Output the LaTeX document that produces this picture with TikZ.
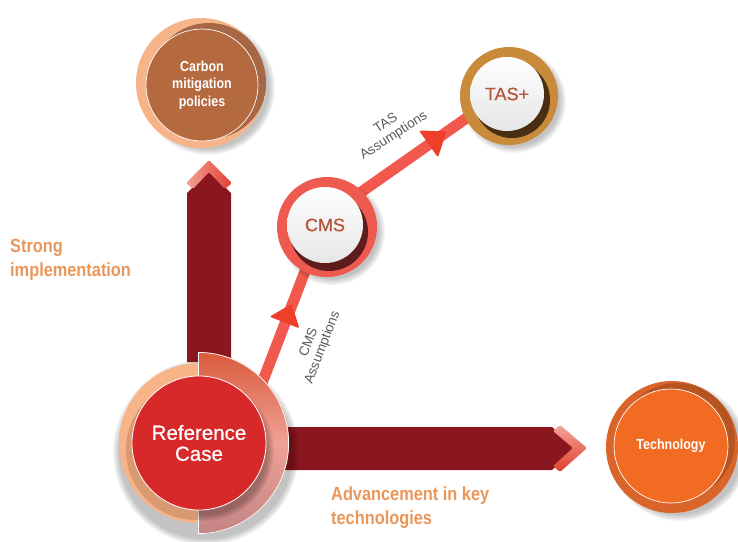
\documentclass[tikz,border=0pt]{standalone}
\usepackage{fontspec}
\setmainfont{Liberation Sans}
\newfontfamily\condf[FakeStretch=0.86]{Liberation Sans}
\newfontfamily\medf[FakeBold=0.5]{Liberation Sans}
\usetikzlibrary{calc}
\definecolor{arrowred}{HTML}{8A1620}
\definecolor{peach}{HTML}{F6B488}
\definecolor{refred}{HTML}{D7282A}
\definecolor{halftop}{HTML}{DA5B3D}
\definecolor{halfmid}{HTML}{EFA195}
\definecolor{halfbot}{HTML}{C48484}
\definecolor{carbonbrown}{HTML}{B5693F}
\definecolor{carbondark}{HTML}{8A4E30}
\definecolor{cmsring}{HTML}{EE5A50}
\definecolor{cmsdark}{HTML}{5E1C1C}
\definecolor{tasring}{HTML}{C98A3A}
\definecolor{tasdark}{HTML}{4A2E12}
\definecolor{techfill}{HTML}{F26B22}
\definecolor{techring}{HTML}{D9652A}
\definecolor{techdark}{HTML}{A04A1E}
\definecolor{linkred}{HTML}{F2594E}
\definecolor{headred}{HTML}{EE3F2A}
\definecolor{labelorange}{HTML}{E9965A}
\definecolor{innertext}{HTML}{B4553A}
\definecolor{chevlight}{HTML}{F3A398}
\definecolor{chevdark}{HTML}{E0402E}
\newcommand\softsh[2]{\foreach \k in {0,...,5}{\fill[black,opacity=0.045] (#1) circle[radius=#2+3-\k*1.2];}}
\tikzset{
  link/.style={draw=linkred, line width=11pt},
  headtri/.style={fill=headred, rounded corners=1.5pt},
  ringnode/.style={circle, inner sep=0pt},
  condlabel/.style={font=\condf\bfseries\fontsize{19}{24}\selectfont, text=labelorange, align=left, inner sep=0pt, anchor=west},
  incircletext/.style={font=\condf\bfseries\fontsize{14.5}{17.5}\selectfont, text=white, align=center},
  assumption/.style={font=\fontsize{13.5}{14.5}\selectfont, text=black!65, align=center, inner sep=0pt},
  whitecenter/.style={circle, inner sep=0pt, top color=white, bottom color=black!10, font=\medf\fontsize{18}{18}\selectfont, text=innertext},
}
\begin{document}
\begin{tikzpicture}[x=1pt,y=-1pt]
\useasboundingbox (0,0) rectangle (738,541);

% ---------- vertical arrow ----------
\fill[arrowred] (187,362) -- (187,193) -- (209,172) -- (231,193) -- (231,362) -- cycle;
\shade[left color=chevlight, right color=chevdark, rounded corners=1.5pt] (186,183) -- (209,160) -- (232,183) -- (225,189) -- (209,172) -- (193,189) -- cycle;

% ---------- horizontal arrow ----------
\fill[arrowred] (250,427) -- (552,427) -- (575,448) -- (552,470) -- (250,470) -- cycle;
\shade[top color=chevlight, bottom color=chevdark, rounded corners=1.5pt] (560,425) -- (587,448) -- (560,472) -- (553,466) -- (573,448) -- (553,431) -- cycle;

% ---------- circle rings (nodes) ----------
\node[ringnode, minimum size=182pt] (ref) at (199,443) {};
\node[ringnode, minimum size=100pt] (cms) at (327,227) {};
\node[ringnode, minimum size=98pt] (tas) at (509,96) {};
\node[ringnode, minimum size=130pt] (carbon) at (201,83) {};
\node[ringnode, minimum size=132pt] (tech) at (672,447) {};

% ---------- connectors ----------
\draw[link] ([shift={(45,-13)}]ref.center) -- ([shift={(-5,0)}]cms.center);
\draw[link] ([shift={(3,-13)}]cms.center) -- ([shift={(-4,-5)}]tas.center);
\fill[headtri] (269.6,316.7) -- (291.7,303.8) -- (299.4,328.3) -- cycle;
\fill[headtri] (419,130.5) -- (446.5,131.4) -- (438,157.5) -- cycle;

% ---------- Reference Case ----------
\softsh{206,452}{90}
\begin{scope}
  \clip (0,0) rectangle (198,541);
  \fill[peach] (ref.center) circle[radius=80];
  \fill[carbondark, opacity=0.25] (196,450) circle[radius=70];
\end{scope}
\begin{scope}
  \clip (198,0) rectangle (738,541);
  \shade[top color=halftop, bottom color=halfbot, middle color=halfmid] (198,443) circle[radius=91];
  \draw[white, line width=0.7pt] (198,443) circle[radius=90.6];
  \draw[white, line width=0.7pt] (198.3,352) -- (198.3,534);
  \clip (198,443) circle[radius=90];
  \foreach \k in {0,...,5}{\fill[black,opacity=0.05] (204,451) circle[radius=70-\k*1.2];}
\end{scope}
\node[circle, fill=refred, draw=white, line width=0.8pt, minimum size=134pt, inner sep=0pt,
      font=\medf\fontsize{20.5}{21}\selectfont, text=white, align=center] (refin) at (199,443) {Reference\\Case};

% ---------- CMS ----------
\softsh{332,232}{50}
\fill[cmsring] (cms.center) circle[radius=50];
\fill[cmsdark] (329,232) circle[radius=39];
\node[whitecenter, minimum size=76pt] (cmsin) at (325,225) {CMS};

% ---------- TAS+ ----------
\softsh{514,101}{49}
\fill[tasring] (tas.center) circle[radius=49];
\fill[tasdark] (512,100) circle[radius=38];
\node[whitecenter, minimum size=74pt] (tasin) at (507,94) {TAS+};

% ---------- Carbon ----------
\softsh{208,88}{64}
\fill[peach] (carbon.center) circle[radius=65];
\begin{scope}
  \clip (carbon.center) circle[radius=65];
  \fill[carbondark, opacity=0.75] (209,81) circle[radius=58];
\end{scope}
\node[circle, fill=carbonbrown, draw=white, line width=0.7pt, minimum size=112pt, inner sep=0pt, incircletext] (carbonin) at (202,85) {Carbon\\mitigation\\policies};

% ---------- Technology ----------
\softsh{679,452}{66}
\fill[techring] (tech.center) circle[radius=66];
\begin{scope}
  \clip (tech.center) circle[radius=66];
  \fill[techdark, opacity=0.6] (677,441) circle[radius=58];
\end{scope}
\node[circle, fill=techfill, draw=white, line width=0.7pt, minimum size=114pt, inner sep=0pt, incircletext] (techin) at (671,446) {Technology};

% ---------- labels ----------
\node[assumption, rotate=33] (taslab) at (390,130) {TAS\\Assumptions};
\node[assumption, rotate=69] (cmslab) at (316,345) {CMS\\Assumptions};
\node[condlabel] (strong) at (10,260) {Strong\\implementation};
\node[condlabel] (adv) at (331,508) {Advancement in key\\technologies};
\end{tikzpicture}
\end{document}
